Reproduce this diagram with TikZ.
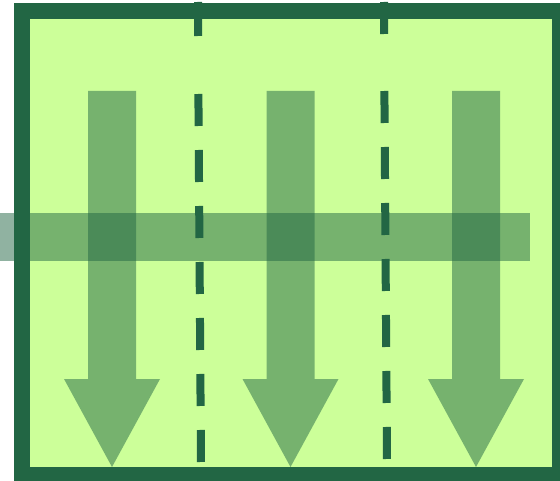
\documentclass[tikz,border=0pt]{standalone}
\usepackage{tikz}
\usetikzlibrary{positioning}
\definecolor{frame}{HTML}{226644}
\definecolor{field}{HTML}{CCFF99}

\begin{document}
\begin{tikzpicture}[x=1pt,y=-1pt]
\tikzstyle{flow}=[fill=frame,fill opacity=0.5]
\tikzstyle{divider}=[draw=frame,line width=8pt]
\useasboundingbox (0,0) rectangle (560,481);
\clip (0,0) rectangle (560,481);
\fill [field] (22,11) rectangle (560,475);
\fill [flow] (-10,213) rectangle (530,261);
\fill [flow] (88,91) -- (136,91) -- (136,379) -- (160,379) -- (112,467) -- (64,379) -- (88,379) -- cycle;
\fill [flow] (266.5,91) -- (314.5,91) -- (314.5,379) -- (338.5,379) -- (290.5,467) -- (242.5,379) -- (266.5,379) -- cycle;
\fill [flow] (452,91) -- (500,91) -- (500,379) -- (524,379) -- (476,467) -- (428,379) -- (452,379) -- cycle;
\draw [frame,line width=16pt] (22,11) rectangle (560,475);
\draw [divider] (198,2) -- (198.2,36);
\draw [divider,dash pattern=on 32pt off 24pt] (198.4,94) -- (201,466);
\draw [divider] (384,2) -- (384.2,34);
\draw [divider,dash pattern=on 32pt off 24pt] (384.4,91) -- (387,463);
\end{tikzpicture}
\end{document}
